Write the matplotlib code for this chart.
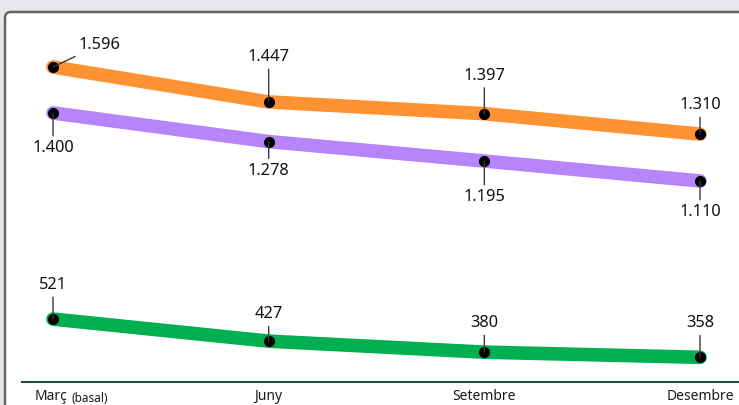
import matplotlib
matplotlib.use('Agg')
import matplotlib.pyplot as plt
from matplotlib.patches import FancyBboxPatch

#categories and series values
months = ['Març', 'Juny', 'Setembre', 'Desembre']
serie_taronja = [1596, 1447, 1397, 1310]
serie_lila = [1400, 1278, 1195, 1110]
serie_verda = [521, 427, 380, 358]

#label offsets in pixels (dx, dy) for each point
off_taronja = [(46, 22), (0, 45), (0, 38), (0, 29)]
off_lila = [(0, -35), (0, -29), (0, -36), (0, -31)]
off_verda = [(0, 34), (0, 27), (0, 29), (0, 34)]

W, H = 739, 405
fig = plt.figure(figsize=(W / 100, H / 100), dpi=100)
fig.patch.set_facecolor('#e8e8ec')

#white panel with rounded corner, running off the right and bottom edges
panel = FancyBboxPatch((5 / W, -20 / H), (W + 20) / W, (H + 20 - 12) / H,
                       boxstyle='round,pad=0,rounding_size=0.008',
                       transform=fig.transFigure, facecolor='white',
                       edgecolor='#666666', linewidth=1.8, mutation_aspect=W / H,
                       zorder=-1)
fig.patches.append(panel)

ax = fig.add_axes([0, 0, 1, 1])
ax.set_facecolor('none')
for s in ax.spines.values():
    s.set_visible(False)
ax.set_xticks([])
ax.set_yticks([])

#scales: x=0 -> 53px, x=3 -> 700px ; value 1596 -> 67px, 0.2345 px per unit
px_x = (700 - 53) / 3
ax.set_xlim(-53 / px_x, (W - 53) / px_x)
py = 0.2345
ax.set_ylim(1596 - (H - 67) / py, 1596 + 67 / py)

xs = list(range(len(months)))


def fmt(v):
    return f'{v:,}'.replace(',', '.')


def draw_serie(vals, color, offs):
    ax.plot(xs, vals, color=color, lw=9.8, solid_capstyle='round',
            solid_joinstyle='round', zorder=2)
    ax.plot(xs, vals, 'o', color='black', ms=7, zorder=4)
    for x, v, (dx, dy) in zip(xs, vals, offs):
        ax.annotate(fmt(v), xy=(x, v), xytext=(dx, dy), textcoords='offset pixels',
                    ha='center', va='center', fontsize=11.8, family='Noto Sans',
                    color='#111111', zorder=5,
                    arrowprops=dict(arrowstyle='-', color='#3a3a3a', lw=1.0,
                                    shrinkA=1, shrinkB=0))


draw_serie(serie_taronja, '#ff9233', off_taronja)
draw_serie(serie_lila, '#b884fb', off_lila)
draw_serie(serie_verda, '#00b050', off_verda)

#category axis line
base = 1596 - (382 - 67) / py
ax.axhline(base, xmin=22 / W, xmax=1, color='#1e4d3a', lw=1.5, zorder=3)

#category labels
ty = 1596 - (397 - 67) / py
ax.annotate(months[0], xy=(0, ty), xytext=(-18, 0), textcoords='offset pixels',
            ha='left', va='center', fontsize=10, family='Noto Sans', color='#1a1a1a')
ax.annotate('(basal)', xy=(0, ty), xytext=(18, -1), textcoords='offset pixels',
            ha='left', va='center', fontsize=8.5, family='Noto Sans', color='#1a1a1a')
for x, m in zip(xs[1:], months[1:]):
    ax.text(x, ty, m, ha='center', va='center', fontsize=10, family='Noto Sans',
            color='#1a1a1a')

fig.savefig('out.png', dpi=100, facecolor=fig.get_facecolor())
